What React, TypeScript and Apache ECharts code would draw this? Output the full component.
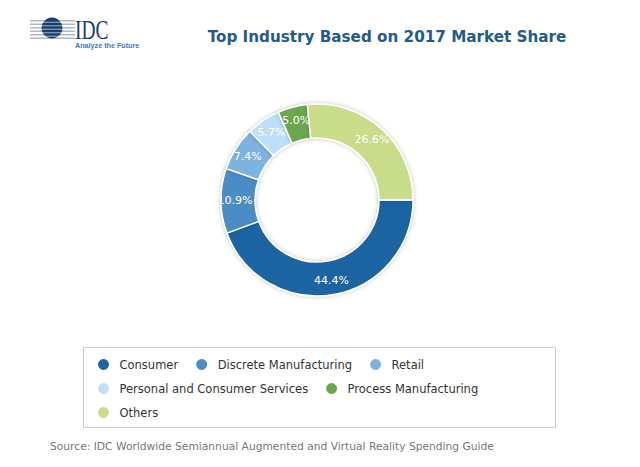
import React, { useEffect, useRef } from "react";
import * as echarts from "echarts";

const categories = [
  "Consumer",
  "Discrete Manufacturing",
  "Retail",
  "Personal and Consumer Services",
  "Process Manufacturing",
  "Others",
];
const shares = [44.4, 10.9, 7.4, 5.7, 5.0, 26.6];
const colors = ["#1a64a2", "#4a8cc6", "#7db3df", "#bde0f8", "#6aa84f", "#c8dc8a"];
const legendRows = [
  ["Consumer", "Discrete Manufacturing", "Retail"],
  ["Personal and Consumer Services", "Process Manufacturing"],
  ["Others"],
];
const titleText = "Top Industry Based on 2017 Market Share";
const sourceText = "Source: IDC Worldwide Semiannual Augmented and Virtual Reality Spending Guide";

const FONT = "DejaVu Sans";

export default function App() {
  const ref = useRef<HTMLDivElement>(null);
  useEffect(() => {
    if (!ref.current) return;
    const chart = echarts.init(ref.current, undefined, { renderer: "svg" });
    const stripes = [0, 1, 2, 3, 4, 5].map((i) => ({
      type: "rect",
      shape: { x: 22, y: 12 + i * 3.5, width: 45, height: 1.6 },
      style: { fill: "#a9bccf" },
    }));
    chart.setOption({
      animation: false,
      backgroundColor: "#ffffff",
      color: colors,
      title: {
        text: titleText,
        left: 374,
        top: 16,
        textAlign: "center",
        textStyle: { fontFamily: FONT, fontSize: 15.2, fontWeight: "bold", color: "#1f5b8c" },
      },
      legend: legendRows.map((row, i) => ({
        data: row,
        left: 83,
        top: 344 + i * 24,
        orient: "horizontal",
        icon: "circle",
        itemWidth: 22,
        itemHeight: 13,
        itemGap: 16,
        symbolKeepAspect: true,
        textStyle: { fontFamily: FONT, fontSize: 11.5, color: "#333333" },
        selectedMode: false,
      })),
      graphic: [
        {
          type: "rect",
          shape: { x: 75.5, y: 339.5, width: 472, height: 80 },
          style: { fill: "none", stroke: "#cccccc", lineWidth: 1 },
          silent: true,
        },
        {
          type: "text",
          left: 42,
          top: 433,
          style: { text: sourceText, font: `10.7px ${FONT}`, fill: "#777777" },
        },
        {
          type: "group",
          children: [
            ...stripes,
            {
              type: "circle",
              shape: { cx: 44, cy: 20, r: 10.5 },
              style: { fill: "#1c3d6c" },
            },
            ...[0, 1, 2, 3, 4].map((i) => ({
              type: "rect",
              shape: { x: 33, y: 13.7 + i * 3.5, width: 22, height: 1.1 },
              style: { fill: "#ffffff", opacity: 0.55 },
            })),
            {
              type: "text",
              x: 67,
              y: 8,
              scaleX: 0.72,
              style: { text: "IDC", font: "27px 'Liberation Serif'", fill: "#1c3d6c" },
            },
            {
              type: "text",
              x: 67,
              y: 34,
              style: { text: "Analyze the Future", font: "bold 7.2px 'Liberation Sans'", fill: "#3a78c0" },
            },
          ],
        },
      ],
      series: [
        {
          type: "pie",
          center: [309, 192],
          radius: [62, 96],
          startAngle: 0,
          clockwise: true,
          avoidLabelOverlap: false,
          itemStyle: {
            borderColor: "#ffffff",
            borderWidth: 1.5,
            shadowBlur: 4,
            shadowColor: "rgba(0,0,0,0.25)",
          },
          label: {
            show: true,
            position: "inside",
            formatter: (p: any) => p.value.toFixed(1) + "%",
            color: "#ffffff",
            fontFamily: FONT,
            fontSize: 11,
          },
          labelLine: { show: false },
          data: categories.map((c, i) => ({ name: c, value: shares[i] })),
        },
      ],
    });
    return () => chart.dispose();
  }, []);
  return <div ref={ref} style={{ width: 640, height: 467 }} />;
}
